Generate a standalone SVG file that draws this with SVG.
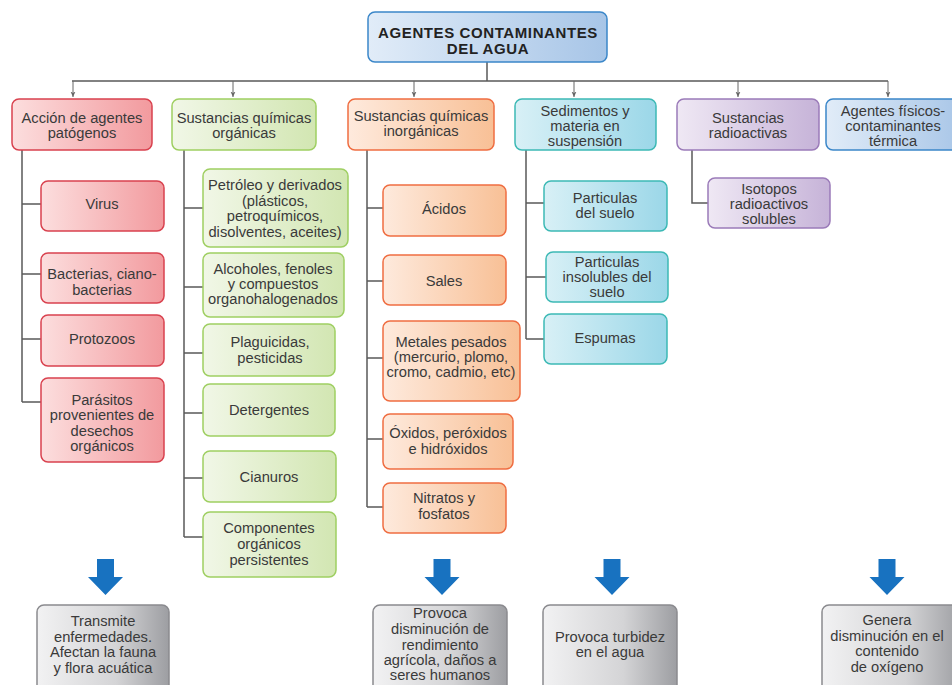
<svg xmlns="http://www.w3.org/2000/svg" width="952" height="685" viewBox="0 0 952 685">
<defs>
<linearGradient id="gBlue" x1="0" y1="0" x2="1" y2="0"><stop offset="0" stop-color="#e1ecf8"/><stop offset="1" stop-color="#a7c5e7"/></linearGradient>
<linearGradient id="gRed" x1="0" y1="0" x2="1" y2="0"><stop offset="0" stop-color="#fcdede"/><stop offset="1" stop-color="#f29a9e"/></linearGradient>
<linearGradient id="gGreen" x1="0" y1="0" x2="1" y2="0"><stop offset="0" stop-color="#f1f7e7"/><stop offset="1" stop-color="#d2e6b2"/></linearGradient>
<linearGradient id="gOrange" x1="0" y1="0" x2="1" y2="0"><stop offset="0" stop-color="#feeadd"/><stop offset="1" stop-color="#f8c096"/></linearGradient>
<linearGradient id="gTeal" x1="0" y1="0" x2="1" y2="0"><stop offset="0" stop-color="#d8f0f6"/><stop offset="1" stop-color="#9bd7e8"/></linearGradient>
<linearGradient id="gPurple" x1="0" y1="0" x2="1" y2="0"><stop offset="0" stop-color="#efe8f4"/><stop offset="1" stop-color="#c6b3d8"/></linearGradient>
<linearGradient id="gGray" x1="0" y1="0" x2="1" y2="0"><stop offset="0" stop-color="#f2f2f3"/><stop offset="0.6" stop-color="#d4d4d6"/><stop offset="1" stop-color="#9d9ea2"/></linearGradient>
<marker id="ah" markerWidth="6" markerHeight="6" refX="5.5" refY="3" orient="auto" markerUnits="userSpaceOnUse" viewBox="0 0 6 6">
<path d="M0,0.5 L5.5,3 L0,5.5 L1.5,3 Z" fill="#666"/>
</marker>
<path id="bigArrow" d="M-8.5,0 L8.5,0 L8.5,18 L17.5,18 L0,36 L-17.5,18 L-8.5,18 Z" fill="#1872c0"/>
</defs>
<style>
text{font-family:"Liberation Sans",Arial,sans-serif;font-size:14.7px;fill:#3a3a3a;text-anchor:middle}
.title{font-weight:bold;font-size:15px;fill:#222;letter-spacing:0.6px}
rect{stroke-width:1.5}
.blue{fill:url(#gBlue);stroke:#3b87c9}
.red{fill:url(#gRed);stroke:#d9424f}
.green{fill:url(#gGreen);stroke:#9fcf62}
.orange{fill:url(#gOrange);stroke:#ef6d41}
.teal{fill:url(#gTeal);stroke:#3cb9b5}
.purple{fill:url(#gPurple);stroke:#9b7bb9}
.gray{fill:url(#gGray);stroke:#8a8a8e}
.ln{stroke:#5a5a5a;stroke-width:1.5;fill:none}
.arw{stroke:#666;stroke-width:1;fill:none}
</style>
<rect width="952" height="685" fill="#ffffff" style="stroke:none"/>

<g id="connectors">
<path class="ln" d="M487,62 V81 M72,81 H888"/>
<path class="arw" d="M73,81 V97" marker-end="url(#ah)"/>
<path class="arw" d="M233,81 V97" marker-end="url(#ah)"/>
<path class="arw" d="M414,81 V97" marker-end="url(#ah)"/>
<path class="arw" d="M574,81 V97" marker-end="url(#ah)"/>
<path class="arw" d="M738,81 V97" marker-end="url(#ah)"/>
<path class="arw" d="M888,81 V97" marker-end="url(#ah)"/>
<path class="ln" d="M22,150 V402 M22,204 H41 M22,274 H41 M22,339 H41 M22,402 H41"/>
<path class="ln" d="M184,150 V537 M184,208 H203 M184,287 H203 M184,353 H203 M184,413 H203 M184,478 H203 M184,537 H203"/>
<path class="ln" d="M367,150 V507 M367,208 H383 M367,281 H383 M367,358 H383 M367,439 H383 M367,507 H383"/>
<path class="ln" d="M526,150 V339 M526,203 H544 M526,277 H546 M526,339 H544"/>
<path class="ln" d="M692,150 V203 H708"/>
<use href="#bigArrow" x="105.5" y="559"/>
<use href="#bigArrow" x="442" y="559"/>
<use href="#bigArrow" x="612" y="559"/>
<use href="#bigArrow" x="887" y="559"/>
</g>

<g id="title">
<rect class="blue" x="368" y="12" width="239" height="50" rx="7"/>
<text class="title" x="488" y="38">AGENTES CONTAMINANTES</text>
<text class="title" x="488" y="54">DEL AGUA</text>
</g>

<g id="patogenos">
<rect class="red" x="12" y="99" width="140" height="51" rx="7"/>
<text x="82" y="123">Acción de agentes</text>
<text x="82" y="138">patógenos</text>
</g>
<g id="virus"><rect class="red" x="41" y="181" width="123" height="50" rx="7"/><text x="102" y="209">Virus</text></g>
<g id="bacterias"><rect class="red" x="41" y="253" width="123" height="50" rx="7"/><text x="102" y="279">Bacterias, ciano-</text><text x="102" y="295">bacterias</text></g>
<g id="protozoos"><rect class="red" x="41" y="315" width="123" height="51" rx="7"/><text x="102" y="344">Protozoos</text></g>
<g id="parasitos"><rect class="red" x="41" y="378" width="123" height="84" rx="7"/><text x="102" y="405">Parásitos</text><text x="102" y="420">provenientes de</text><text x="102" y="436">desechos</text><text x="102" y="451">orgánicos</text></g>

<g id="organicas">
<rect class="green" x="172" y="99" width="144" height="51" rx="7"/>
<text x="244" y="123">Sustancias químicas</text>
<text x="244" y="138">orgánicas</text>
</g>
<g id="petroleo"><rect class="green" x="203" y="169" width="145" height="78" rx="7"/><text x="275" y="190">Petróleo y derivados</text><text x="275" y="206">(plásticos,</text><text x="275" y="221">petroquímicos,</text><text x="275" y="237">disolventes, aceites)</text></g>
<g id="alcoholes"><rect class="green" x="203" y="253" width="141" height="64" rx="7"/><text x="273" y="274">Alcoholes, fenoles</text><text x="273" y="289">y compuestos</text><text x="273" y="304">organohalogenados</text></g>
<g id="plaguicidas"><rect class="green" x="203" y="324" width="132" height="52" rx="7"/><text x="270" y="347">Plaguicidas,</text><text x="270" y="363">pesticidas</text></g>
<g id="detergentes"><rect class="green" x="203" y="384" width="132" height="52" rx="7"/><text x="269" y="415">Detergentes</text></g>
<g id="cianuros"><rect class="green" x="203" y="451" width="133" height="51" rx="7"/><text x="269" y="482">Cianuros</text></g>
<g id="componentes"><rect class="green" x="203" y="512" width="133" height="65" rx="7"/><text x="269" y="533">Componentes</text><text x="269" y="549">orgánicos</text><text x="269" y="565">persistentes</text></g>

<g id="inorganicas">
<rect class="orange" x="348" y="99" width="146" height="51" rx="7"/>
<text x="421" y="121">Sustancias químicas</text>
<text x="421" y="136">inorgánicas</text>
</g>
<g id="acidos"><rect class="orange" x="383" y="185" width="123" height="51" rx="7"/><text x="444" y="214">Ácidos</text></g>
<g id="sales"><rect class="orange" x="383" y="255" width="123" height="50" rx="7"/><text x="444" y="286">Sales</text></g>
<g id="metales"><rect class="orange" x="383" y="321" width="137" height="80" rx="7"/><text x="451" y="347">Metales pesados</text><text x="451" y="362">(mercurio, plomo,</text><text x="451" y="377">cromo, cadmio, etc)</text></g>
<g id="oxidos"><rect class="orange" x="383" y="414" width="130" height="55" rx="7"/><text x="448" y="438">Óxidos, peróxidos</text><text x="448" y="454">e hidróxidos</text></g>
<g id="nitratos"><rect class="orange" x="383" y="483" width="123" height="50" rx="7"/><text x="444" y="503">Nitratos y</text><text x="444" y="519">fosfatos</text></g>

<g id="sedimentos">
<rect class="teal" x="515" y="99" width="141" height="51" rx="7"/>
<text x="585" y="116">Sedimentos y</text>
<text x="585" y="131">materia en</text>
<text x="585" y="146">suspensión</text>
</g>
<g id="particulas-suelo"><rect class="teal" x="544" y="181" width="123" height="50" rx="7"/><text x="605" y="203">Particulas</text><text x="605" y="218">del suelo</text></g>
<g id="particulas-insolubles"><rect class="teal" x="546" y="252" width="122" height="50" rx="7"/><text x="607" y="267">Particulas</text><text x="607" y="282">insolubles del</text><text x="607" y="297">suelo</text></g>
<g id="espumas"><rect class="teal" x="544" y="314" width="123" height="50" rx="7"/><text x="605" y="343">Espumas</text></g>

<g id="radioactivas">
<rect class="purple" x="677" y="99" width="142" height="51" rx="7"/>
<text x="748" y="123">Sustancias</text>
<text x="748" y="138">radioactivas</text>
</g>
<g id="isotopos"><rect class="purple" x="708" y="178" width="122" height="50" rx="7"/><text x="769" y="194">Isotopos</text><text x="769" y="209">radioactivos</text><text x="769" y="224">solubles</text></g>

<g id="fisicos">
<rect class="blue" x="826" y="99" width="140" height="51" rx="7"/>
<text x="893" y="116">Agentes físicos-</text>
<text x="893" y="131">contaminantes</text>
<text x="893" y="146">térmica</text>
</g>

<g id="efecto-patogenos"><rect class="gray" x="37" y="605" width="132" height="100" rx="7"/><text x="103" y="626">Transmite</text><text x="103" y="642">enfermedades.</text><text x="103" y="657">Afectan la fauna</text><text x="103" y="673">y flora acuática</text></g>
<g id="efecto-inorganicas"><rect class="gray" x="373" y="605" width="134" height="100" rx="7"/><text x="440" y="618">Provoca</text><text x="440" y="634">disminución de</text><text x="440" y="650">rendimiento</text><text x="440" y="665">agrícola, daños a</text><text x="440" y="680">seres humanos</text></g>
<g id="efecto-sedimentos"><rect class="gray" x="543" y="605" width="134" height="100" rx="7"/><text x="610" y="642">Provoca turbidez</text><text x="610" y="657">en el agua</text></g>
<g id="efecto-termica"><rect class="gray" x="822" y="605" width="140" height="100" rx="7"/><text x="887" y="625">Genera</text><text x="887" y="641">disminución en el</text><text x="887" y="656">contenido</text><text x="887" y="672">de oxígeno</text></g>
</svg>
